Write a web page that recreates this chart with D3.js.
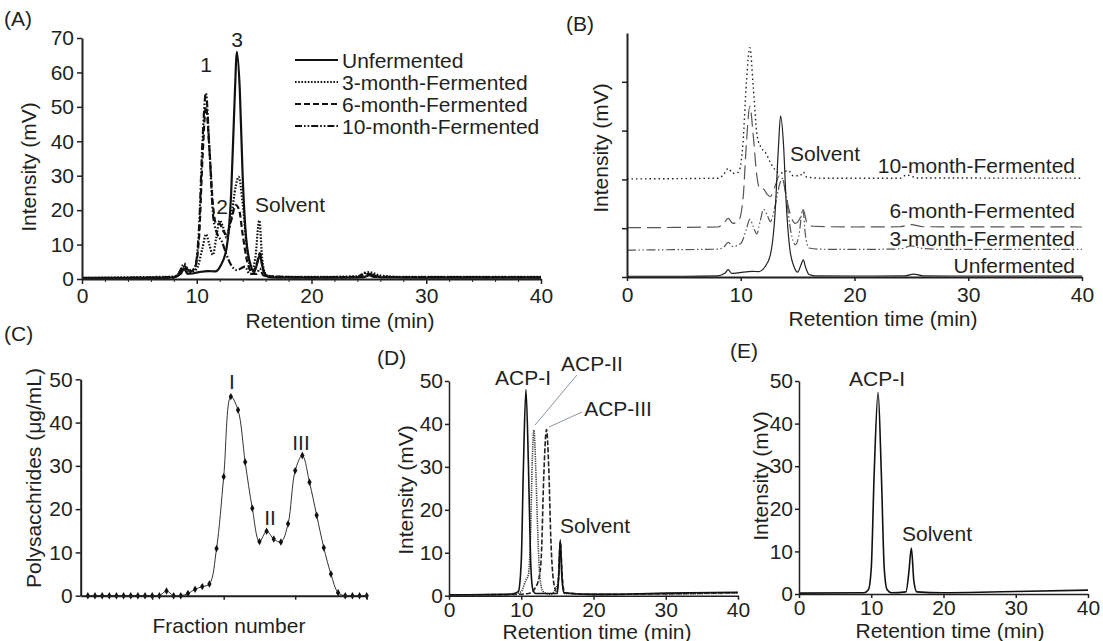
<!DOCTYPE html>
<html><head><meta charset="utf-8">
<script src="https://cdn.jsdelivr.net/npm/d3@7"></script>
<style>
body{margin:0;background:#fff}
text{font-family:"Liberation Sans",Arial,sans-serif;fill:#231f20}
</style>
</head><body>
<svg id="c" width="1103" height="641"></svg>
<script>
// ---------- DATA ----------
const seriesNames = ["Unfermented","3-month-Fermented","6-month-Fermented","10-month-Fermented"];
const timeTicks = [0,10,20,30,40];
const intensityTicksA = [0,10,20,30,40,50,60,70];
const intensityTicksDE = [0,10,20,30,40,50];
const polyTicks = [0,10,20,30,40,50];
const offsetsB = [0,10.7,20,40];

// [retention time (min), intensity (mV)]
const unfermented = [[0,0.3],[5,0.3],[8,0.5],[8.6,1.5],[8.9,3],[9.2,1.5],[9.6,1.6],[10.2,2],[11,2.3],[11.6,2.2],[12.1,4],[12.6,9],[13.0,25],[13.3,52],[13.5,66],[13.75,55],[14.0,30],[14.3,12],[14.7,4],[15.0,2],[15.3,5],[15.5,7],[15.7,4],[16.0,1],[16.5,0.5],[20,0.4],[24.5,0.5],[25.2,1.2],[26,0.5],[30,0.4],[40,0.4]];
const month3 = [[0,0.3],[4,0.5],[8,0.7],[8.5,1.5],[8.9,3.5],[9.3,1.8],[10,3],[10.5,9],[10.8,13],[11.1,10],[11.4,7],[11.7,12],[12.0,17],[12.3,15],[12.6,12],[13.0,18],[13.4,27],[13.65,29.7],[14.0,22],[14.4,8],[14.8,2.5],[15.1,6],[15.45,17],[15.7,6],[16.0,1.2],[17,0.7],[20,0.6],[24,0.8],[25,2],[26,1],[28,0.6],[40,0.6]];
const month6 = [[0,0.2],[8,0.5],[8.5,2],[8.9,4],[9.3,2],[9.8,3],[10.2,12],[10.5,35],[10.8,50],[11.1,38],[11.4,22],[11.7,16],[12.0,16],[12.3,14],[12.6,13],[13.0,17],[13.4,21.5],[13.7,20],[14.0,13],[14.4,5],[14.8,2],[15.2,4],[15.5,7.5],[15.8,2.5],[16.3,0.8],[20,0.5],[24,0.6],[25,1.5],[26,0.6],[40,0.5]];
const month10 = [[0,0.2],[8,0.5],[8.5,2],[8.9,4.5],[9.3,2.5],[9.8,3],[10.2,15],[10.5,40],[10.8,54],[11.1,38],[11.45,17.6],[11.8,13],[12.2,10.8],[12.6,7],[13.0,4],[13.5,2.6],[14.2,3.6],[14.6,1.5],[15.2,1.5],[15.5,3],[15.8,1],[17,0.5],[24,0.5],[24.6,1.8],[25.5,0.6],[40,0.5]];

const fractionNumber = [1,2,3,4,5,6,7,8,9,10,11,12,13,14,15,16,17,18,19,20,21,22,23,24,25,26,27,28,29,30,31,32,33,34,35,36,37,38,39,40];
const polysaccharides = [0,0,0,0,0,0,0,0,0,0,0,1.1,0,0,0.5,1.5,2.1,2.7,10.9,27.5,46.0,42.9,30.9,20.2,12.5,14.9,13.1,12.4,16.6,28.9,32.4,26.2,18.6,11.1,5.0,0.7,0,0,0,0];

const acpI = [[0,0.2],[8,0.3],[9.0,0.5],[9.6,1],[10.0,8],[10.3,30],[10.65,48],[11.0,30],[11.3,8],[11.6,1.5],[12,0.5],[15,0.5],[15.2,5],[15.4,13],[15.6,5],[15.9,0.7],[20,0.3],[25,0.4],[30,0.6],[40,0.8]];
const acpII = [[0,0.1],[6,0.2],[9,0.3],[10,1],[10.6,3.5],[11.0,5],[11.3,15],[11.5,30],[11.75,38.6],[12.0,30],[12.3,14],[12.6,4],[13.0,1],[14,0.3],[15.1,3],[15.4,12],[15.7,3],[16,0.5],[20,0.3],[40,0.6]];
const acpIII = [[0,0.2],[9,0.3],[11,0.5],[12.0,2],[12.5,4.5],[12.8,10],[13.1,27],[13.5,38.7],[13.8,30],[14.1,13],[14.5,3],[14.9,1],[15.15,4],[15.4,12.5],[15.7,4],[16,0.7],[20,0.3],[40,0.7]];
const acpIPurified = [[0,0.2],[9,0.3],[9.6,1],[10.0,6],[10.4,28],[10.95,47.3],[11.4,28],[11.8,6],[12.2,1],[12.8,0.3],[14.8,0.5],[15.2,5],[15.55,10.8],[15.9,3],[16.3,0.5],[20,0.3],[25,0.4],[30,0.6],[40,0.9]];

// ---------- DRAW ----------
const FS = 21;
const svg = d3.select("#c");
const ink = "#231f20";

function styleAxis(g, w) {
  g.select(".domain").attr("stroke", ink).attr("stroke-width", w);
  g.selectAll(".tick line").attr("stroke", ink).attr("stroke-width", w > 1.5 ? 1.5 : w);
  g.selectAll("text").attr("font-size", FS).attr("fill", ink).style("font-family", '"Liberation Sans",Arial,sans-serif');
}
function label(x, y, txt, anchor, rot) {
  const t = svg.append("text").attr("font-size", FS).attr("text-anchor", anchor || "middle")
    .attr("dominant-baseline", "central").text(txt);
  if (rot) t.attr("transform", `translate(${x},${y}) rotate(-90)`);
  else t.attr("x", x).attr("y", y);
  return t;
}

// ===== Panel A =====
const xA = d3.scaleLinear([0,40],[82,541]);
const yA = d3.scaleLinear([0,70],[279,38]);
const lineA = d3.line().x(d=>xA(d[0])).y(d=>yA(d[1])).curve(d3.curveMonotoneX);
const stylesA = [
  {dash:null, w:2.2},
  {dash:"1.6,1.6", w:2.2},
  {dash:"6,3", w:2.2},
  {dash:"7,2,1.6,2,1.6,2", w:2.2}
];
const dataA = [unfermented, month3, month6, month10];
[1,2,3,0].forEach(i => {
  svg.append("path").attr("d", lineA(dataA[i])).attr("fill","none").attr("stroke","#111")
    .attr("stroke-width", stylesA[i].w).attr("stroke-dasharray", stylesA[i].dash);
});
svg.append("g").attr("transform","translate(0,279)")
  .call(d3.axisBottom(xA).tickValues(d3.range(0,41,2).filter(v=>v%10)).tickSize(3).tickFormat("").tickSizeOuter(0))
  .call(g=>{g.select(".domain").remove(); g.selectAll("line").attr("stroke",ink);});
svg.append("g").attr("transform","translate(0,279)")
  .call(d3.axisBottom(xA).tickValues(timeTicks).tickSize(5).tickPadding(4).tickSizeOuter(0))
  .call(g=>styleAxis(g,2));
svg.append("g").attr("transform","translate(82,0)")
  .call(d3.axisLeft(yA).tickValues(intensityTicksA).tickSize(5).tickPadding(3).tickSizeOuter(0))
  .call(g=>styleAxis(g,2));
seriesNames.forEach((n,i) => {
  const y = 60 + i*22;
  svg.append("line").attr("x1",295).attr("x2",338).attr("y1",y).attr("y2",y)
    .attr("stroke","#111").attr("stroke-width",2.2).attr("stroke-dasharray", stylesA[i].dash);
  label(342, y, n, "start");
});
label(237, 39, "3");
label(206, 64, "1");
label(222, 206, "2");
label(255, 204, "Solvent", "start");
label(28, 167, "Intensity (mV)", "middle", true);
label(340, 320, "Retention time (min)");
label(4, 18, "(A)", "start");

// ===== Panel B =====
const xB = d3.scaleLinear([0,40],[627,1082]);
const yB = d3.scaleLinear([0,100],[277,33]);
const stylesB = [
  {dash:null, c:"#222", w:1.2},
  {dash:"9,2.5,1.5,2.5,1.5,2.5", c:"#555", w:1.2},
  {dash:"14,6", c:"#555", w:1.2},
  {dash:"1.5,3", c:"#222", w:1.4}
];
[3,2,1,0].forEach(i => {
  const off = offsetsB[i];
  const lineB = d3.line().x(d=>xB(d[0])).y(d=>yB(d[1]+off)).curve(d3.curveMonotoneX);
  svg.append("path").attr("d", lineB(dataA[i])).attr("fill","none").attr("stroke",stylesB[i].c)
    .attr("stroke-width", stylesB[i].w).attr("stroke-dasharray", stylesB[i].dash);
});
svg.append("g").attr("transform","translate(0,277)")
  .call(d3.axisBottom(xB).tickValues(timeTicks).tickSize(4).tickPadding(6).tickSizeOuter(0))
  .call(g=>styleAxis(g,2));
svg.append("g").attr("transform","translate(627,0)")
  .call(d3.axisLeft(yB).tickValues([0,20,40,60,80]).tickSize(5).tickFormat("").tickSizeOuter(0))
  .call(g=>styleAxis(g,2));
label(790, 153, "Solvent", "start");
label(1075, 165, seriesNames[3], "end");
label(1075, 210, seriesNames[2], "end");
label(1075, 238, seriesNames[1], "end");
label(1075, 265, seriesNames[0], "end");
label(600, 148, "Intensity (mV)", "middle", true);
label(883, 318, "Retention time (min)");
label(566, 23, "(B)", "start");

// ===== Panel C =====
const xC = d3.scaleLinear([0,40],[80.7,366.7]);
const yC = d3.scaleLinear([0,50],[595.7,379.3]);
const ptsC = fractionNumber.map((f,i)=>[f, polysaccharides[i]]);
svg.append("path").attr("d", d3.line().x(d=>xC(d[0])).y(d=>yC(d[1])).curve(d3.curveCatmullRom.alpha(0.5))(ptsC))
  .attr("fill","none").attr("stroke","#333").attr("stroke-width",1);
svg.append("g").selectAll("path").data(ptsC).join("path")
  .attr("d", d3.symbol(d3.symbolDiamond, 16))
  .attr("transform", d=>`translate(${xC(d[0])},${yC(d[1])})`).attr("fill","#111");
svg.append("g").attr("transform","translate(0,595.7)")
  .call(d3.axisBottom(xC).tickValues([10,20,30,40]).tickSize(4).tickFormat("").tickSizeOuter(0))
  .call(g=>styleAxis(g,2));
svg.append("g").attr("transform","translate(80.7,0)")
  .call(d3.axisLeft(yC).tickValues(polyTicks).tickSize(5).tickPadding(3).tickSizeOuter(0))
  .call(g=>styleAxis(g,2));
label(232, 381, "I");
label(270, 517, "II");
label(301, 442, "III");
label(33, 478, "Polysacchrides  (\u03bcg/mL)", "middle", true);
label(229, 625, "Fraction number");
label(4, 333, "(C)", "start");

// ===== Panel D =====
const xD = d3.scaleLinear([0,40],[449,738]);
const yD = d3.scaleLinear([0,50],[595.7,381]);
const lineD = d3.line().x(d=>xD(d[0])).y(d=>yD(d[1])).curve(d3.curveMonotoneX);
[[acpIII,"5,2","#222",1.6],[acpII,"1.3,1","#444",1.6],[acpI,null,"#111",1.6]].forEach(s=>{
  svg.append("path").attr("d", lineD(s[0])).attr("fill","none").attr("stroke",s[2])
    .attr("stroke-width",s[3]).attr("stroke-dasharray",s[1]);
});
svg.append("g").attr("transform","translate(0,595.7)")
  .call(d3.axisBottom(xD).tickValues(timeTicks).tickSize(4).tickPadding(2).tickSizeOuter(0))
  .call(g=>styleAxis(g,1.5));
svg.append("g").attr("transform","translate(449,0)")
  .call(d3.axisLeft(yD).tickValues(intensityTicksDE).tickSize(4).tickPadding(2).tickSizeOuter(0))
  .call(g=>styleAxis(g,1.5));
svg.append("line").attr("x1",577).attr("y1",375).attr("x2",535).attr("y2",425).attr("stroke","#6a7a8a").attr("stroke-width",0.8);
svg.append("line").attr("x1",582).attr("y1",412).attr("x2",549).attr("y2",427).attr("stroke","#6a7a8a").attr("stroke-width",0.8);
label(523, 377, "ACP-I");
label(592, 363, "ACP-II");
label(618, 408, "ACP-III");
label(595, 525, "Solvent");
label(405, 490, "Intensity (mV)", "middle", true);
label(597, 631, "Retention time (min)");
label(377, 357, "(D)", "start");

// ===== Panel E =====
const xE = d3.scaleLinear([0,40],[799,1088]);
const yE = d3.scaleLinear([0,50],[594,381]);
const lineE = d3.line().x(d=>xE(d[0])).y(d=>yE(d[1])).curve(d3.curveMonotoneX);
svg.append("path").attr("d", lineE(acpIPurified)).attr("fill","none").attr("stroke","#111").attr("stroke-width",1.6);
svg.append("g").attr("transform","translate(0,594)")
  .call(d3.axisBottom(xE).tickValues(timeTicks).tickSize(4).tickPadding(2).tickSizeOuter(0))
  .call(g=>styleAxis(g,1.5));
svg.append("g").attr("transform","translate(799,0)")
  .call(d3.axisLeft(yE).tickValues(intensityTicksDE).tickSize(4).tickPadding(2).tickSizeOuter(0))
  .call(g=>styleAxis(g,1.5));
label(877, 378, "ACP-I");
label(937, 533, "Solvent");
label(760, 476, "Intensity (mV)", "middle", true);
label(950, 630, "Retention time (min)");
label(730, 350, "(E)", "start");
</script>
</body></html>
